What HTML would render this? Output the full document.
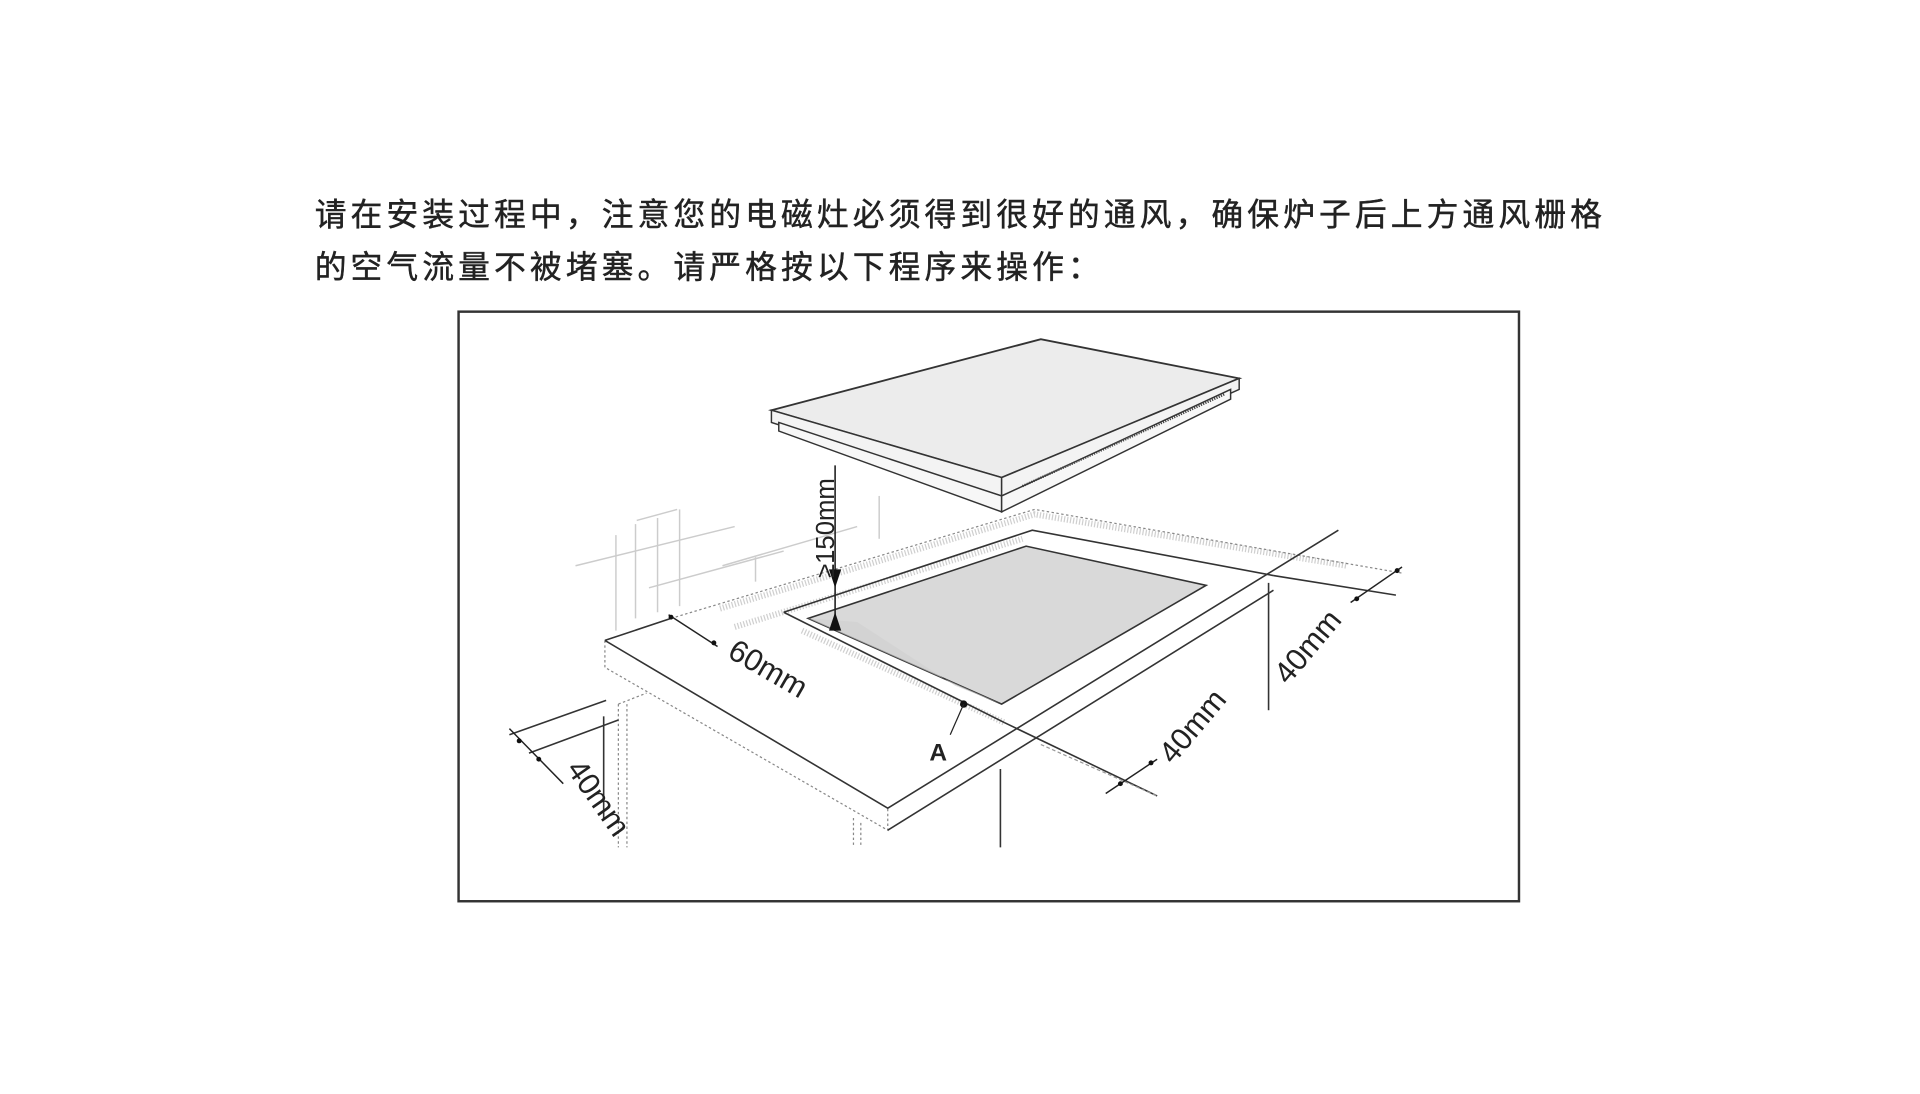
<!DOCTYPE html>
<html><head><meta charset="utf-8"><style>
html,body{margin:0;padding:0;background:#fff;width:1920px;height:1094px;overflow:hidden}
svg{display:block}
</style></head><body>
<svg width="1920" height="1094" viewBox="0 0 1568 893.4" xmlns="http://www.w3.org/2000/svg">
<g font-family="'Liberation Sans','Noto Sans CJK SC',sans-serif" font-size="26" fill="#222" letter-spacing="3.3" stroke="#222" stroke-width="0.35">
<text x="257" y="184">请在安装过程中，注意您的电磁灶必须得到很好的通风，确保炉子后上方通风栅格</text>
<text x="257" y="227">的空气流量不被堵塞。请严格按以下程序来操作：</text>
</g>
<rect x="374.5" y="254.5" width="866" height="481.5" fill="none" stroke="#333" stroke-width="2"/>

<!-- wall tiles -->
<g stroke="#ccc" stroke-width="1.2" fill="none">
<line x1="470" y1="462" x2="600" y2="430"/>
<line x1="530" y1="480" x2="640" y2="450"/>
<line x1="520" y1="425" x2="553" y2="416"/>
<line x1="590" y1="462" x2="700" y2="430"/>
<line x1="503" y1="437" x2="503" y2="515"/>
<line x1="519" y1="428" x2="519" y2="505"/>
<line x1="537" y1="423" x2="537" y2="500"/>
<line x1="555" y1="416" x2="555" y2="495"/>
<line x1="617" y1="455" x2="617" y2="475"/>
<line x1="718" y1="405" x2="718" y2="440"/>
</g>

<!-- dotted band back and right -->
<g stroke="#bbb" stroke-width="5" stroke-dasharray="1 1.5" fill="none" opacity="0.7">
<path d="M588,497 L845,420 L1100,462"/>
<path d="M600,512 L835,440"/>
<path d="M655,515 L820,590"/>
</g>
<g stroke="#888" stroke-width="1" stroke-dasharray="2 2" fill="none">
<path d="M548,505 L845,416 L1145,468"/>
<path d="M494,523 L494,545 L725,678 L725,660"/>
<path d="M505,575 L505,692 M512,575 L512,692 M505,575 L528,566"/>
<path d="M697,668 L697,692 M703,672 L703,692"/>
</g>

<!-- countertop -->
<g stroke="#333" stroke-width="1.3" fill="none">
<path d="M494,523 L548,505"/>
<path d="M494,523 L725,660 L1093,433"/>
<path d="M725,678 L1040,482"/>
<path d="M640,500 L843,433 L1040,470"/>
<path d="M640,500 L820,590"/>
<path d="M820,590 L945,650"/>
<path d="M1040,470 L1140,486"/>
<line x1="1036" y1="476" x2="1036" y2="580"/>
<line x1="817" y1="628" x2="817" y2="692"/>
<line x1="493" y1="585" x2="493" y2="670"/>
<line x1="416" y1="600" x2="495" y2="572"/>
<line x1="432" y1="615" x2="505" y2="588"/>
</g>
<!-- gray cutout -->
<polygon points="660,505 838,446 985,478 818,575" fill="#d9d9d9" stroke="#333" stroke-width="1.3"/>
<polygon points="660,505 700,508 780,560 818,575" fill="#cfcfcf" opacity="0.6"/>
<line x1="850" y1="608" x2="945" y2="650" stroke="#999" stroke-width="1" stroke-dasharray="3 2"/>

<!-- hob -->
<polygon points="630,335 850,277 1012,309 818,390" fill="#ececec" stroke="#333" stroke-width="1.5"/>
<polygon points="630,335 818,390 818,405 630,345" fill="#f3f3f3" stroke="#333" stroke-width="1.2"/>
<polygon points="818,390 1012,309 1012,318 818,405" fill="#f3f3f3" stroke="#333" stroke-width="1.2"/>
<polygon points="636,345 818,405 818,418 636,352" fill="#f7f7f7" stroke="#333" stroke-width="1.2"/>
<polygon points="818,405 1005,318 1005,326 818,418" fill="#f7f7f7" stroke="#333" stroke-width="1.2"/>
<line x1="835" y1="397" x2="1000" y2="322" stroke="#444" stroke-width="2" stroke-dasharray="1 1"/>

<!-- 150 dimension -->
<line x1="682" y1="380" x2="682" y2="515" stroke="#222" stroke-width="1.3"/>
<polygon points="677,465 687,465 682,480" fill="#111"/>
<polygon points="677,515 687,515 682,500" fill="#111"/>
<text transform="translate(681,472) rotate(-90)" font-family="'Liberation Sans',sans-serif" font-size="21" fill="#222">≥150mm</text>

<!-- 60mm -->
<line x1="546" y1="502" x2="586" y2="528" stroke="#222" stroke-width="1.2"/>
<circle cx="548" cy="504" r="2" fill="#111"/><circle cx="583" cy="525" r="2" fill="#111"/>
<text transform="translate(593,536) rotate(30)" font-family="'Liberation Sans',sans-serif" font-size="25" fill="#222">60mm</text>

<!-- A -->
<circle cx="787" cy="575" r="3" fill="#111"/>
<line x1="787" y1="575" x2="776" y2="600" stroke="#222" stroke-width="1"/>
<text x="759" y="621" font-family="'Liberation Sans',sans-serif" font-size="20" font-weight="bold" fill="#222">A</text>

<!-- right 40mm dims -->
<line x1="903" y1="648" x2="945" y2="620" stroke="#222" stroke-width="1.2"/>
<circle cx="915" cy="640" r="2" fill="#111"/><circle cx="940" cy="623" r="2" fill="#111"/>
<text transform="translate(958,625) rotate(-50)" font-family="'Liberation Sans',sans-serif" font-size="25" fill="#222">40mm</text>
<line x1="1103" y1="492" x2="1145" y2="463" stroke="#222" stroke-width="1.2"/>
<circle cx="1108" cy="489" r="2" fill="#111"/><circle cx="1141" cy="466" r="2" fill="#111"/>
<text transform="translate(1052,560) rotate(-50)" font-family="'Liberation Sans',sans-serif" font-size="25" fill="#222">40mm</text>

<!-- left 40mm -->
<line x1="416" y1="595" x2="460" y2="640" stroke="#222" stroke-width="1.2"/>
<circle cx="424" cy="605" r="2" fill="#111"/><circle cx="440" cy="620" r="2" fill="#111"/>
<text transform="translate(462,628) rotate(55)" font-family="'Liberation Sans',sans-serif" font-size="25" fill="#222">40mm</text>
</svg>
</body></html>
